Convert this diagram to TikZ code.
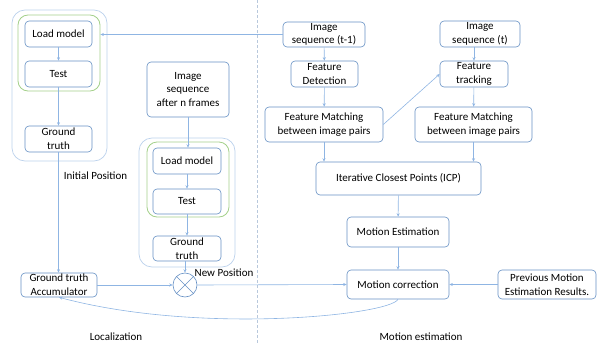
\documentclass[tikz,border=0pt]{standalone}
\usepackage{fontspec}
\setmainfont{Carlito}
\usetikzlibrary{arrows.meta}
\definecolor{boxc}{HTML}{6690C4}
\definecolor{arrc}{HTML}{8FB5E3}
\definecolor{grn}{HTML}{A3D08A}
\definecolor{outc}{HTML}{BCD2EC}
\definecolor{divc}{HTML}{B8C8DC}
\begin{document}
\begin{tikzpicture}[x=1pt,y=-1pt,
  box/.style={draw=boxc, line width=0.6pt, rounded corners=4pt, align=center, inner sep=1pt,
     font=\fontsize{11}{13.6}\selectfont, fill=white},
  grp/.style={draw=grn, line width=0.8pt, rounded corners=10pt},
  outer/.style={draw=outc, line width=0.7pt, rounded corners=13pt},
  arr/.style={draw=arrc, line width=0.6pt, -{Stealth[length=3.5pt,width=3pt]}},
  lbl/.style={font=\fontsize{11}{12}\selectfont, inner sep=0pt}]
\useasboundingbox (0,0) rectangle (597,343);
% divider
\draw[divc, line width=0.6pt, dash pattern=on 3pt off 2pt] (257,0) -- (257,343);
% left group
\node[outer, minimum width=95pt, minimum height=151pt] (o1) at (59.5,85.5) {};
\node[grp, minimum width=82pt, minimum height=76pt] (g1) at (59,53) {};
\node[box, minimum width=67pt, minimum height=26pt] (lm1) at (58.5,34) {Load model};
\node[box, minimum width=67pt, minimum height=26pt] (t1) at (58.5,74) {Test};
\node[box, minimum width=67pt, minimum height=26pt] (gt1) at (58.5,139) {Ground\\truth};
% middle group
\node[box, minimum width=82pt, minimum height=55pt] (isn) at (188,89.5) {Image\\sequence\\after n frames};
\node[outer, minimum width=96pt, minimum height=129pt] (o2) at (187,202.5) {};
\node[grp, minimum width=82pt, minimum height=75pt] (g2) at (188,179.5) {};
\node[box, minimum width=68pt, minimum height=26pt] (lm2) at (187,161) {Load model};
\node[box, minimum width=68pt, minimum height=25pt] (t2) at (187,201.5) {Test};
\node[box, minimum width=68pt, minimum height=25pt] (gt2) at (187,248.5) {Ground\\truth};
% accumulator and sum
\node[box, minimum width=76pt, minimum height=24pt] (acc) at (59,285) {Ground truth\\Accumulator};
\node[draw=boxc, line width=0.6pt, circle, minimum size=24pt, inner sep=0pt] (cir) at (185,285) {};
\draw[boxc, line width=0.6pt] (cir.north west) -- (cir.south east) (cir.north east) -- (cir.south west);
% right side
\node[box, minimum width=82pt, minimum height=25pt] (is1) at (324,34.5) {Image\\sequence (t-1)};
\node[box, minimum width=80pt, minimum height=26pt] (is2) at (480,34) {Image\\sequence (t)};
\node[box, minimum width=67pt, minimum height=26pt] (fd) at (324.5,74) {Feature\\Detection};
\node[box, minimum width=68pt, minimum height=26pt] (ft) at (474,74) {Feature\\tracking};
\node[box, minimum width=118pt, minimum height=35pt] (fm1) at (324,124.5) {Feature Matching\\between image pairs};
\node[box, minimum width=117pt, minimum height=35pt] (fm2) at (473.5,124.5) {Feature Matching\\between image pairs};
\node[box, minimum width=165pt, minimum height=33pt] (icp) at (398.5,178.5) {Iterative Closest Points (ICP)};
\node[box, minimum width=102pt, minimum height=30pt] (me) at (398,232) {Motion Estimation};
\node[box, minimum width=102pt, minimum height=29pt] (mc) at (398,284.5) {Motion correction};
\node[box, minimum width=98pt, minimum height=29pt] (pr) at (547,284.5) {Previous Motion\\Estimation Results.};
% labels
\node[lbl] (ip) at (95.5,176) {Initial Position};
\node[lbl] (np) at (224,273) {New Position};
\node[lbl] (loc) at (116,337) {Localization};
\node[lbl] (mes) at (421,337) {Motion estimation};
% connectors
\draw[arr] (is1.west) -- (is1.west -| g1.east);
\draw[arr] (lm1) -- (t1);
\draw[arr] (t1) -- (gt1);
\draw[arr] (gt1.south) -- (gt1.south |- acc.north);
\draw[arr] (isn.south) -- (isn.south |- lm2.north);
\draw[arr] (lm2) -- (t2);
\draw[arr] (t2) -- (gt2);
\draw[arr] (gt2.south -| cir.north) -- (cir.north);
\draw[arr] (acc.east) -- (cir.west);
\draw[arr] (cir.east) -- (mc.west);
\draw[arr] (mc.south) .. controls (390,315) and (200,335) .. (acc.south);
\draw[arr] (is1) -- (fd);
\draw[arr] (fd) -- (fm1);
\draw[arr] (fm1.south) -- (fm1.south |- icp.north);
\draw[arr] (fm2.south) -- (fm2.south |- icp.north);
\draw[arr] (ft.north |- is2.south) -- (ft.north);
\draw[arr] (ft) -- (fm2);
\draw[arr] (fm1.east) -- (ft.west);
\draw[arr] (icp) -- (me);
\draw[arr] (me) -- (mc);
\draw[arr] (pr) -- (mc);
\end{tikzpicture}
\end{document}
